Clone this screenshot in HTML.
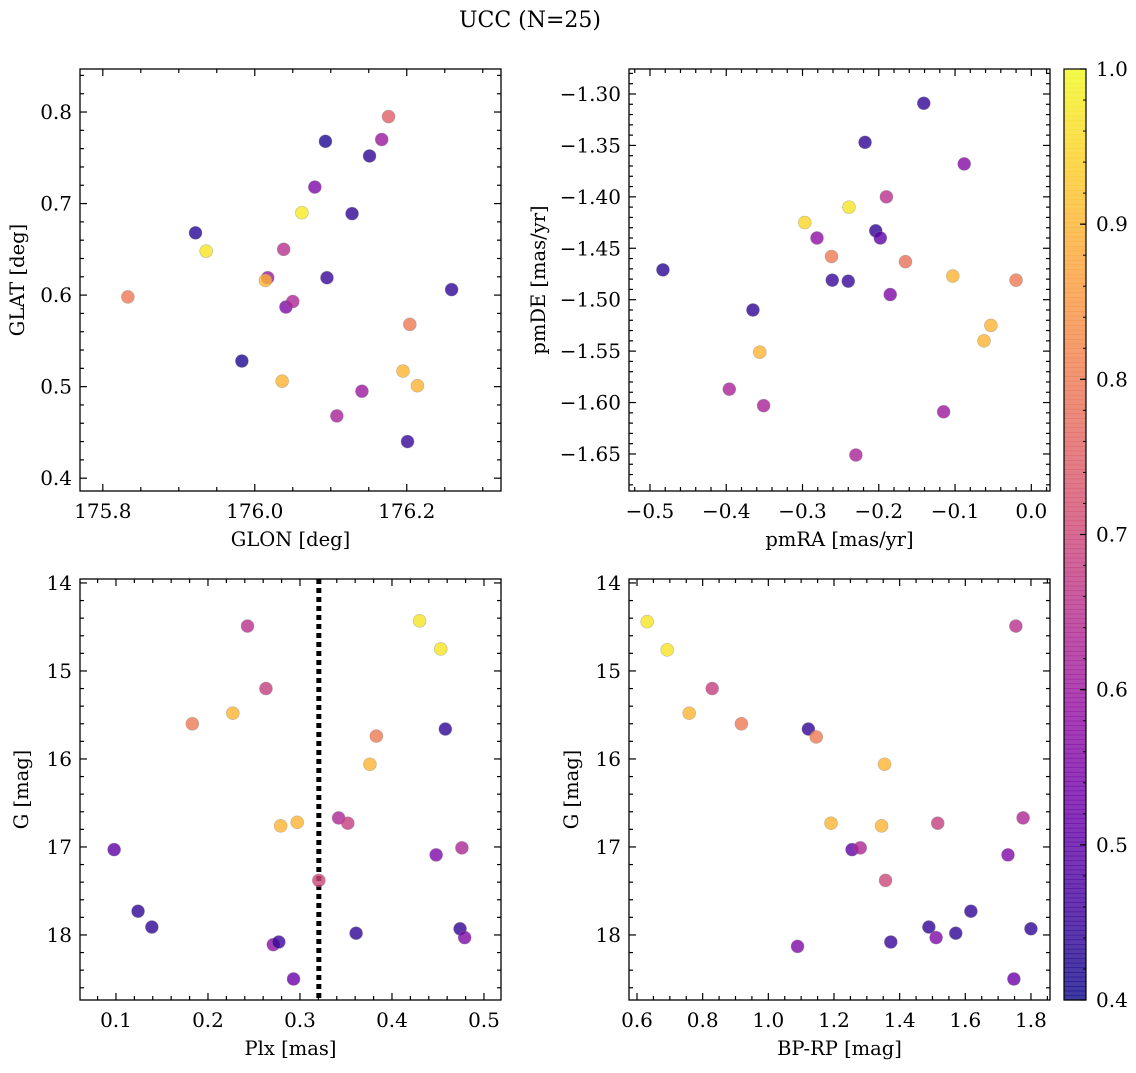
<!DOCTYPE html>
<html><head><meta charset="utf-8"><style>
body{margin:0;background:#fff;}
svg text{font-family:"DejaVu Serif","Liberation Serif",serif;fill:#000;}
</style></head><body>
<svg id="fig" width="1136" height="1068" xmlns="http://www.w3.org/2000/svg">
<text x="530" y="27" font-size="22" text-anchor="middle">UCC (N=25)</text>
<g id="plots"></g>
</svg>
<script>
// Panel 1: GLON vs GLAT
const glonX=[175.833,175.922,175.936,175.983,176.017,176.014,176.038,176.041,176.050,176.036,176.062,176.079,176.093,176.095,176.108,176.128,176.141,176.151,176.167,176.176,176.195,176.204,176.201,176.214,176.259];
const glatY=[0.598,0.668,0.648,0.528,0.619,0.616,0.650,0.587,0.593,0.506,0.690,0.718,0.768,0.619,0.468,0.689,0.495,0.752,0.770,0.795,0.517,0.568,0.440,0.501,0.606];
const probP1=[0.8,0.43,0.97,0.42,0.6,0.9,0.65,0.55,0.63,0.9,0.98,0.55,0.42,0.45,0.62,0.44,0.6,0.44,0.6,0.75,0.9,0.8,0.45,0.9,0.44];
// Panel 2: pmRA vs pmDE
const pmraX=[-0.483,-0.365,-0.396,-0.351,-0.356,-0.297,-0.281,-0.262,-0.261,-0.240,-0.239,-0.230,-0.218,-0.204,-0.198,-0.190,-0.185,-0.165,-0.141,-0.115,-0.103,-0.088,-0.062,-0.053,-0.020];
const pmdeY=[-1.471,-1.510,-1.587,-1.603,-1.551,-1.425,-1.440,-1.458,-1.481,-1.482,-1.410,-1.651,-1.347,-1.433,-1.440,-1.400,-1.495,-1.463,-1.309,-1.609,-1.477,-1.368,-1.540,-1.525,-1.481];
const probP2=[0.43,0.44,0.62,0.62,0.9,0.95,0.58,0.8,0.45,0.45,0.97,0.62,0.44,0.44,0.5,0.65,0.55,0.78,0.44,0.6,0.9,0.56,0.9,0.9,0.8];
// Panel 3: Plx vs G
const plxX=[0.098,0.124,0.139,0.183,0.227,0.243,0.263,0.271,0.277,0.279,0.293,0.297,0.3205,0.342,0.352,0.361,0.376,0.383,0.430,0.458,0.453,0.448,0.476,0.474,0.479];
const gY3=[17.03,17.73,17.91,15.60,15.48,14.49,15.20,18.11,18.08,16.76,18.50,16.72,17.38,16.67,16.73,17.98,16.06,15.74,14.43,15.66,14.75,17.09,17.01,17.93,18.03];
const probP3=[0.5,0.44,0.44,0.8,0.9,0.65,0.68,0.58,0.45,0.9,0.52,0.9,0.7,0.63,0.68,0.44,0.9,0.8,0.97,0.44,0.97,0.55,0.63,0.44,0.55];
const plxLine=0.3205;
// Panel 4: BP-RP vs G
const bprpX=[0.631,0.692,0.759,0.829,0.918,1.089,1.122,1.146,1.191,1.255,1.280,1.345,1.354,1.357,1.373,1.489,1.511,1.516,1.571,1.617,1.730,1.754,1.748,1.776,1.800];
const gY4=[14.44,14.76,15.48,15.20,15.60,18.13,15.66,15.75,16.73,17.03,17.01,16.76,16.06,17.38,18.08,17.91,18.03,16.73,17.98,17.73,17.09,14.49,18.50,16.67,17.93];
const probP4=[0.97,0.97,0.9,0.68,0.8,0.55,0.44,0.8,0.9,0.5,0.63,0.9,0.9,0.7,0.45,0.44,0.55,0.68,0.44,0.44,0.55,0.65,0.52,0.63,0.44];
const cbTicks=[0.4,0.5,0.6,0.7,0.8,0.9,1.0];

const NS="http://www.w3.org/2000/svg";
const root=document.getElementById('plots');
function mk(tag,attrs,parent){const e=document.createElementNS(NS,tag);for(const k in attrs)e.setAttribute(k,attrs[k]);(parent||root).appendChild(e);return e;}
const stops=["#0d0887","#41049d","#6a00a8","#8f0da4","#b12a90","#cc4778","#e16462","#f2844b","#fca636","#fcce25","#f0f921"];
function hex(h){return [parseInt(h.substr(1,2),16),parseInt(h.substr(3,2),16),parseInt(h.substr(5,2),16)];}
function plasma(t){t=Math.max(0,Math.min(1,t));const f=t*10,i=Math.min(9,Math.floor(f)),r=f-i;const a=hex(stops[i]),b=hex(stops[i+1]);return 'rgb('+a.map((v,k)=>Math.round(v+(b[k]-v)*r)).join(',')+')';}
function cnorm(p){return (p-0.4)/0.6;}
function fmt(v,d){let s=v.toFixed(d);if(v<0)s='\u2212'+s.slice(1);return s;}

function panel(cfg){
  const {L,R,T,B,xmin,xmax,ymin,ymax,inv}=cfg;
  const sx=v=>L+(v-xmin)/(xmax-xmin)*(R-L);
  const sy=v=>inv? T+(v-ymin)/(ymax-ymin)*(B-T) : B-(v-ymin)/(ymax-ymin)*(B-T);
  const g=mk('g',{});
  
  
  const eps=1e-9;
  for(let k=Math.ceil(xmin/cfg.xminor-eps);k*cfg.xminor<=xmax+eps;k++){
    const v=k*cfg.xminor;
    const major=Math.abs(v/cfg.xmajor-Math.round(v/cfg.xmajor))<1e-6;const x=sx(v),len=major?7:4;
    mk('line',{x1:x,x2:x,y1:B,y2:B-len,stroke:'#000','stroke-width':1.2},g);
    mk('line',{x1:x,x2:x,y1:T,y2:T+len,stroke:'#000','stroke-width':1.2},g);
    if(major){const t=mk('text',{x:x,y:B+27,'font-size':20,'text-anchor':'middle'},g);t.textContent=fmt(v,cfg.xdec);
      }
  }
  const ylo=Math.min(ymin,ymax),yhi=Math.max(ymin,ymax);
  for(let k=Math.ceil(ylo/cfg.yminor-eps);k*cfg.yminor<=yhi+eps;k++){
    const v=k*cfg.yminor;
    const major=Math.abs(v/cfg.ymajor-Math.round(v/cfg.ymajor))<1e-6;const y=sy(v),len=major?7:4;
    mk('line',{x1:L,x2:L+len,y1:y,y2:y,stroke:'#000','stroke-width':1.2},g);
    mk('line',{x1:R,x2:R-len,y1:y,y2:y,stroke:'#000','stroke-width':1.2},g);
    if(major){const t=mk('text',{x:L-8,y:y+7,'font-size':20,'text-anchor':'end'},g);t.textContent=fmt(v,cfg.ydec);
      }
  }
  const xl=mk('text',{x:(L+R)/2,y:B+55,'font-size':19.5,'text-anchor':'middle'},g);xl.textContent=cfg.xlabel;
  
  const yl=mk('text',{x:0,y:0,'font-size':19.5,'text-anchor':'middle',transform:`translate(${cfg.ylx},${(T+B)/2}) rotate(-90)`},g);yl.textContent=cfg.ylabel;
  
  if(cfg.vline!==undefined){const ln=mk('line',{x1:sx(cfg.vline),x2:sx(cfg.vline),y1:T,y2:B,stroke:'#000','stroke-width':5,'stroke-dasharray':'5,4'},g);
    }
  cfg.xs.forEach((xv,i)=>{const c=mk('circle',{cx:sx(xv),cy:sy(cfg.ys[i]),r:6.5,fill:plasma(cnorm(cfg.ps[i])),'fill-opacity':0.8,stroke:'#888','stroke-opacity':0.5,'stroke-width':0.6},g);
    });
  const fr=mk('rect',{x:L,y:T,width:R-L,height:B-T,fill:'none',stroke:'#000','stroke-width':1.3},g);
  
}
panel({name:'glon-glat-panel',L:80,R:501,T:69,B:491,xmin:175.770,xmax:176.324,ymin:0.386,ymax:0.847,xmajor:0.2,xminor:0.05,ymajor:0.1,yminor:0.02,xdec:1,ydec:1,xlabel:'GLON [deg]',ylabel:'GLAT [deg]',ylx:24,xs:glonX,ys:glatY,ps:probP1});
panel({name:'pm-panel',L:629,R:1050,T:69,B:491,xmin:-0.5275,xmax:0.0245,ymin:-1.686,ymax:-1.2757,xmajor:0.1,xminor:0.02,ymajor:0.05,yminor:0.01,xdec:1,ydec:2,xlabel:'pmRA [mas/yr]',ylabel:'pmDE [mas/yr]',ylx:545,xs:pmraX,ys:pmdeY,ps:probP2});
panel({name:'plx-g-panel',L:80,R:501,T:579,B:1000,xmin:0.0609,xmax:0.5185,ymin:13.955,ymax:18.739,inv:true,xmajor:0.1,xminor:0.02,ymajor:1,yminor:0.2,xdec:1,ydec:0,xlabel:'Plx [mas]',ylabel:'G [mag]',ylx:28,xs:plxX,ys:gY3,ps:probP3,vline:plxLine});
panel({name:'cmd-panel',L:629,R:1050,T:579,B:1000,xmin:0.5756,xmax:1.858,ymin:13.955,ymax:18.739,inv:true,xmajor:0.2,xminor:0.05,ymajor:1,yminor:0.2,xdec:1,ydec:0,xlabel:'BP-RP [mag]',ylabel:'G [mag]',ylx:578,xs:bprpX,ys:gY4,ps:probP4});

// colorbar
const cb=mk('g',{});


const cT=69,cB=1000,cL=1064,cR=1086;
for(let i=0;i<200;i++){const t0=i/200;const y=cB-(i+1)/200*(cB-cT);
  mk('rect',{x:cL,y:y,width:cR-cL,height:(cB-cT)/200+0.6,fill:plasma(t0+0.0025),'fill-opacity':0.8},cb);}
mk('rect',{x:cL,y:cT,width:cR-cL,height:cB-cT,fill:'none',stroke:'#000','stroke-width':1.2},cb);
cbTicks.forEach(v=>{const y=cB-(v-0.4)/0.6*(cB-cT);
  mk('line',{x1:cR,x2:cR-6,y1:y,y2:y,stroke:'#000','stroke-width':1.2},cb);
  const t=mk('text',{x:cR+10,y:y+7,'font-size':20},cb);t.textContent=v.toFixed(1);
  });
for(let k=21;k<50;k++){const v=k*0.02;const y=cB-(v-0.4)/0.6*(cB-cT);mk('line',{x1:cR,x2:cR-3,y1:y,y2:y,stroke:'#000','stroke-width':1},cb);}
</script>
</body></html>
